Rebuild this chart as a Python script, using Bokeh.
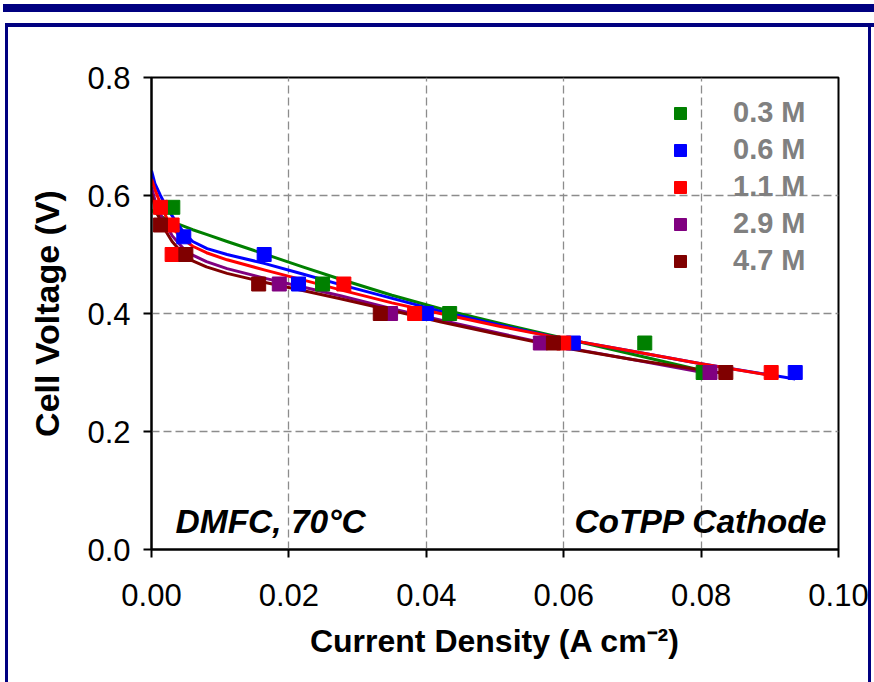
from bokeh.plotting import figure
from bokeh.models import Label, Legend, LegendItem, FixedTicker, NumeralTickFormatter
from bokeh.embed import file_html
from bokeh.resources import INLINE

# ---- data ----
series_names = ["0.3 M", "0.6 M", "1.1 M", "2.9 M", "4.7 M"]
series_colors = ["#008000", "#0000FF", "#FF0000", "#800080", "#800000"]

# measured points
x_03 = [0.0031, 0.0249, 0.0434, 0.0718, 0.0803]
v_03 = [0.58, 0.45, 0.40, 0.35, 0.30]
x_06 = [0.0047, 0.0164, 0.0214, 0.0400, 0.0614, 0.0937]
v_06 = [0.53, 0.50, 0.45, 0.40, 0.35, 0.30]
x_11 = [0.0013, 0.0030, 0.0030, 0.0280, 0.0383, 0.0600, 0.0902]
v_11 = [0.58, 0.55, 0.50, 0.45, 0.40, 0.35, 0.30]
x_29 = [0.0186, 0.0348, 0.0566, 0.0813]
v_29 = [0.45, 0.40, 0.35, 0.30]
x_47 = [0.0013, 0.0050, 0.0156, 0.0333, 0.0585, 0.0836]
v_47 = [0.55, 0.50, 0.45, 0.40, 0.35, 0.30]

# trend curves
cx_03 = [0.0, 0.001, 0.002, 0.004, 0.006, 0.008, 0.011, 0.0164, 0.022, 0.0275, 0.035, 0.043, 0.0508, 0.060, 0.070, 0.0803]
cv_03 = [0.575, 0.567, 0.561, 0.551, 0.542, 0.534, 0.522, 0.501, 0.479, 0.458, 0.431, 0.405, 0.383, 0.358, 0.331, 0.303]
cx_06 = [0.0, 0.0005, 0.0013, 0.0022, 0.0032, 0.0047, 0.006, 0.0081, 0.011, 0.0164, 0.022, 0.0275, 0.042, 0.0508, 0.060, 0.070, 0.080, 0.0937]
cv_06 = [0.642, 0.620, 0.600, 0.580, 0.562, 0.537, 0.522, 0.510, 0.500, 0.485, 0.467, 0.449, 0.404, 0.380, 0.357, 0.336, 0.315, 0.289]
cx_11 = [0.0, 0.0005, 0.0013, 0.0022, 0.0032, 0.0045, 0.006, 0.008, 0.011, 0.0164, 0.022, 0.0275, 0.035, 0.042, 0.0508, 0.060, 0.070, 0.080, 0.0902]
cv_11 = [0.628, 0.610, 0.586, 0.562, 0.543, 0.527, 0.514, 0.503, 0.491, 0.474, 0.457, 0.440, 0.418, 0.400, 0.378, 0.357, 0.336, 0.315, 0.295]
cx_29 = [0.0, 0.0005, 0.001, 0.0018, 0.003, 0.0045, 0.006, 0.008, 0.011, 0.0164, 0.022, 0.0275, 0.035, 0.042, 0.0508, 0.060, 0.070, 0.0813]
cv_29 = [0.614, 0.592, 0.576, 0.556, 0.532, 0.512, 0.499, 0.488, 0.476, 0.460, 0.445, 0.430, 0.408, 0.389, 0.366, 0.343, 0.322, 0.298]
cx_47 = [0.0, 0.0005, 0.001, 0.0018, 0.003, 0.0045, 0.006, 0.008, 0.011, 0.0164, 0.022, 0.0275, 0.035, 0.042, 0.0508, 0.060, 0.070, 0.0836]
cv_47 = [0.603, 0.581, 0.565, 0.545, 0.522, 0.502, 0.489, 0.479, 0.468, 0.453, 0.439, 0.425, 0.405, 0.386, 0.364, 0.342, 0.322, 0.298]

xs_all = [x_03, x_06, x_11, x_29, x_47]
vs_all = [v_03, v_06, v_11, v_29, v_47]
cxs_all = [cx_03, cx_06, cx_11, cx_29, cx_47]
cvs_all = [cv_03, cv_06, cv_11, cv_29, cv_47]

x_ticks = [0.0, 0.02, 0.04, 0.06, 0.08, 0.10]
y_ticks = [0.0, 0.2, 0.4, 0.6, 0.8]

W, H = 874, 682
navy = "#000080"
g = "linear-gradient(%s,%s)" % (navy, navy)
frame_css = {
    "background-image": ", ".join([g, g, g, g]),
    "background-size": "871px 8px, 869px 4px, 3px 700px, 3px 700px",
    "background-position": "3px 4px, 5px 23px, 5px 23px, 868px 23px",
    "background-repeat": "no-repeat",
    "background-color": "white",
}

p = figure(width=W, height=H, output_backend="svg", toolbar_location=None,
           x_range=(0, 0.10), y_range=(0, 0.8),
           min_border_left=151, min_border_right=36,
           min_border_top=77, min_border_bottom=133,
           styles=frame_css)
p.background_fill_color = "white"
p.border_fill_alpha = 0
p.outline_line_color = "black"
p.outline_line_width = 2

for ax in (p.xaxis[0], p.yaxis[0]):
    ax.axis_line_color = "black"
    ax.axis_line_width = 2
    ax.major_tick_line_color = "black"
    ax.major_tick_line_width = 2
    ax.major_tick_out = 8
    ax.major_tick_in = 0
    ax.minor_tick_line_color = None
    ax.major_label_text_font = "Liberation Sans"
    ax.major_label_text_font_size = "31px"
    ax.major_label_text_color = "black"

p.xaxis.ticker = FixedTicker(ticks=x_ticks)
p.yaxis.ticker = FixedTicker(ticks=y_ticks)
p.xaxis.formatter = NumeralTickFormatter(format="0.00")
p.yaxis.formatter = NumeralTickFormatter(format="0.0")
p.xaxis.major_label_standoff = 26
p.yaxis.major_label_standoff = 13

p.yaxis.axis_label = "Cell Voltage (V)"
p.xaxis.axis_label = "Current Density (A cm\u207b\u00b2)"
for ax in (p.xaxis[0], p.yaxis[0]):
    ax.axis_label_text_font = "Liberation Sans"
    ax.axis_label_text_font_style = "bold"
    ax.axis_label_text_color = "black"
p.yaxis.axis_label_text_font_size = "34px"
p.xaxis.axis_label_text_font_size = "32px"
p.yaxis.axis_label_standoff = 18
p.xaxis.axis_label_standoff = 14

for gr in (p.xgrid[0], p.ygrid[0]):
    gr.grid_line_color = "#8c8c8c"
    gr.grid_line_dash = "8 4"
    gr.grid_line_width = 1.3

for cx, cv, col in zip(cxs_all, cvs_all, series_colors):
    p.line(cx, cv, line_color=col, line_width=3, line_join="round")

legend_items = []
for xs, vs, col, name in zip(xs_all, vs_all, series_colors, series_names):
    r = p.scatter(xs, vs, marker="square", size=14, fill_color=col, line_color=col)
    legend_items.append(LegendItem(label=name, renderers=[r]))

legend = Legend(items=legend_items, location=(514, 272),
                glyph_width=30, glyph_height=30, label_standoff=38,
                spacing=4, padding=0, margin=0,
                border_line_color=None, background_fill_alpha=0,
                label_text_font="Liberation Sans", label_text_font_style="bold",
                label_text_font_size="29px", label_text_color="#808080",
                label_height=30)
p.add_layout(legend)

p.add_layout(Label(x=0.0035, y=0.047, text="DMFC, 70°C", text_font="Liberation Sans",
                   text_font_style="bold italic", text_font_size="33.5px",
                   text_color="black", text_baseline="alphabetic"))
p.add_layout(Label(x=0.0984, y=0.047, text="CoTPP Cathode", text_font="Liberation Sans",
                   text_font_style="bold italic", text_font_size="33.5px",
                   text_color="black", text_align="right", text_baseline="alphabetic"))

open("out.html", "w").write(file_html(p, INLINE))
